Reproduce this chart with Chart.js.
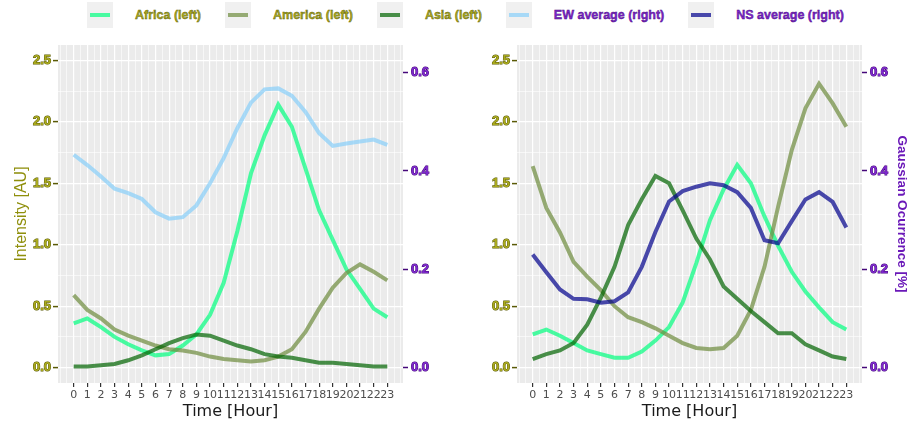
<!DOCTYPE html>
<html>
<head>
<meta charset="utf-8">
<script src="https://cdn.jsdelivr.net/npm/chart.js@4.4.1/dist/chart.umd.min.js"></script>
<style>
html,body{margin:0;padding:0;background:#fff;width:908px;height:428px;overflow:hidden;}
#legend{position:absolute;left:87px;top:2px;height:26px;display:flex;align-items:center;
  font-family:"Liberation Sans",Arial,sans-serif;font-weight:bold;font-size:12.5px;}
.key{width:26px;height:26px;background:#f0f0f0;position:relative;margin-right:22px;flex:none;}
.key span{position:absolute;left:3px;right:3px;top:11px;height:4px;}
.lab{margin-right:24px;white-space:nowrap;-webkit-text-stroke:0.4px;}
#c1{position:absolute;left:0;top:0;}
#c2{position:absolute;left:454px;top:0;}
</style>
</head>
<body>
<div id="legend"></div>
<canvas id="c1" width="454" height="428"></canvas>
<canvas id="c2" width="454" height="428"></canvas>
<script>
// ---------- data ----------
const hours = [0,1,2,3,4,5,6,7,8,9,10,11,12,13,14,15,16,17,18,19,20,21,22,23];

// left panel (Intensity [AU])
const africaLeft  = [0.36,0.40,0.33,0.25,0.19,0.14,0.10,0.11,0.18,0.27,0.43,0.69,1.11,1.58,1.89,2.14,1.96,1.62,1.28,1.04,0.80,0.64,0.48,0.41];
const americaLeft = [0.59,0.47,0.40,0.31,0.26,0.22,0.18,0.15,0.14,0.12,0.09,0.07,0.06,0.05,0.06,0.09,0.15,0.29,0.48,0.65,0.77,0.84,0.78,0.71];
const asiaLeft    = [0.01,0.01,0.02,0.03,0.06,0.10,0.15,0.20,0.24,0.27,0.26,0.22,0.18,0.15,0.11,0.09,0.08,0.06,0.04,0.04,0.03,0.02,0.01,0.01];
// left panel (Gaussian Ocurrence [%], right axis)
const ewAverage   = [0.433,0.412,0.389,0.364,0.355,0.343,0.316,0.303,0.306,0.330,0.375,0.426,0.487,0.539,0.566,0.568,0.553,0.520,0.477,0.451,0.456,0.460,0.464,0.453];

// right panel (Intensity [AU])
const africaRight  = [0.27,0.31,0.26,0.20,0.14,0.11,0.08,0.08,0.13,0.22,0.33,0.53,0.85,1.20,1.45,1.65,1.50,1.23,0.99,0.78,0.62,0.49,0.37,0.31];
const americaRight = [1.64,1.30,1.10,0.86,0.74,0.63,0.50,0.41,0.37,0.32,0.26,0.20,0.16,0.15,0.16,0.26,0.47,0.82,1.31,1.77,2.11,2.31,2.15,1.96];
const asiaRight    = [0.07,0.11,0.14,0.20,0.35,0.57,0.82,1.16,1.37,1.56,1.50,1.28,1.05,0.88,0.66,0.56,0.46,0.37,0.28,0.28,0.19,0.14,0.09,0.07];
// right panel (Gaussian Ocurrence [%], right axis)
const nsAverage    = [0.230,0.194,0.159,0.140,0.139,0.132,0.135,0.153,0.205,0.276,0.338,0.359,0.368,0.375,0.371,0.357,0.325,0.259,0.253,0.298,0.342,0.357,0.337,0.285];

// tick labels
const leftTicks  = [0.0,0.5,1.0,1.5,2.0,2.5];
const rightTicks = [0.0,0.2,0.4,0.6];

const seriesNames = ['Africa (left)','America (left)','Asia (left)','EW average (right)','NS average (right)'];

// ---------- styles ----------
const colAfrica  = 'rgba(0,255,127,0.7)';
const colAmerica = 'rgba(110,139,61,0.7)';
const colAsia    = 'rgba(0,100,0,0.7)';
const colEW      = 'rgba(135,206,250,0.7)';
const colNS      = 'rgba(0,0,139,0.7)';
const seriesColors = [colAfrica,colAmerica,colAsia,colEW,colNS];
const OLIVE = '#aaaa1c', OLIVE_DARK = '#5a5a06';
const PURPLE = '#7d26cd', PURPLE_DARK = '#45087a';
const ARIAL = '"Liberation Sans", Arial, sans-serif';

// legend (HTML)
const legend = document.getElementById('legend');
seriesNames.forEach((name,i)=>{
  const k = document.createElement('div'); k.className='key';
  const s = document.createElement('span'); s.style.background = seriesColors[i]; k.appendChild(s);
  const l = document.createElement('div'); l.className='lab'; l.textContent = name;
  const left = i < 3;
  l.style.color = left ? OLIVE : PURPLE;
  l.style.webkitTextStrokeColor = left ? OLIVE_DARK : PURPLE_DARK;
  legend.appendChild(k); legend.appendChild(l);
});

// grid helpers
const leftMinor = leftTicks.slice(0,-1).map(v=>v+0.25);
const yGrid = leftTicks.concat(leftMinor).sort((a,b)=>a-b);
const xMinor = [-1,-0.5].concat(hours.map(h=>h+0.5)).concat([24]);
const xGrid = hours.concat(xMinor).sort((a,b)=>a-b);
const isMajorX = v => hours.includes(v);
const isMajorY = v => leftTicks.some(t=>Math.abs(t-v)<1e-9);

const bgPlugin = {
  id:'panelBg',
  beforeDraw(chart){
    const {ctx, chartArea:a} = chart;
    ctx.save(); ctx.fillStyle = '#ebebeb';
    ctx.fillRect(a.left, a.top, a.right-a.left, a.bottom-a.top);
    ctx.restore();
  }
};

function pts(arr){ return hours.map((h,i)=>({x:h, y:arr[i]})); }
function ds(label, arr, color, axis){
  return {label, data:pts(arr), borderColor:color, backgroundColor:color, borderWidth:4,
          pointRadius:0, tension:0, yAxisID:axis, fill:false};
}

function makeChart(id, datasets, leftW, rightW, showLeftTitle, showRightTitle){
  return new Chart(document.getElementById(id), {
    type:'line',
    data:{datasets},
    plugins:[bgPlugin],
    options:{
      responsive:false, animation:false, devicePixelRatio:1,
      layout:{padding:{top:45,left:0,right:0,bottom:0}},
      plugins:{legend:{display:false}, tooltip:{enabled:false}},
      scales:{
        x:{
          type:'linear', min:-1.15, max:24.15,
          afterBuildTicks: s => { s.ticks = xGrid.map(v=>({value:v})); },
          afterFit: s => { s.height = 45; },
          border:{display:false},
          grid:{color:'#ffffff', lineWidth: c => isMajorX(c.tick.value) ? 1.2 : 0.6,
                tickColor: c => isMajorX(c.tick.value) ? '#333333' : 'rgba(0,0,0,0)',
                tickLength:4, tickWidth:1.2},
          ticks:{autoSkip:false, maxRotation:0, minRotation:0, padding:2,
                 color:'#4d4d4d', font:{family:'"DejaVu Sans"', size:11},
                 callback: v => isMajorX(v) ? String(v) : ''},
          title:{display:true, text:'Time [Hour]', color:'#1a1a1a',
                 font:{family:'"DejaVu Sans"', size:16, lineHeight:1.2}, padding:{top:0,bottom:7}}
        },
        y:{
          type:'linear', position:'left', min:-0.125, max:2.625,
          afterBuildTicks: s => { s.ticks = yGrid.map(v=>({value:v})); },
          afterFit: s => { s.width = leftW; },
          border:{display:false},
          grid:{color:'#ffffff', lineWidth: c => isMajorY(c.tick.value) ? 1.2 : 0.6,
                tickColor: c => isMajorY(c.tick.value) ? OLIVE_DARK : 'rgba(0,0,0,0)',
                tickLength:5, tickWidth:1.5},
          ticks:{padding:2, color:OLIVE, textStrokeColor:OLIVE_DARK, textStrokeWidth:1,
                 font:{family:ARIAL, size:13, weight:'bold'},
                 callback: v => isMajorY(v) ? v.toFixed(1) : ''},
          title:{display:showLeftTitle, text:'Intensity [AU]', color:'#8f8f0c',
                 font:{family:ARIAL, size:16, lineHeight:1}, padding:{top:14,bottom:0}}
        },
        y2:{
          type:'linear', position:'right', min:-0.03125, max:0.65625,
          afterBuildTicks: s => { s.ticks = rightTicks.map(v=>({value:v})); },
          afterFit: s => { s.width = rightW; },
          border:{display:false},
          grid:{drawOnChartArea:false, color:PURPLE_DARK, tickColor:PURPLE_DARK, tickLength:5, tickWidth:1.5},
          ticks:{padding:3, color:PURPLE, textStrokeColor:PURPLE_DARK, textStrokeWidth:1,
                 font:{family:ARIAL, size:13, weight:'bold'},
                 callback: v => v.toFixed(1)},
          title:{display:showRightTitle, text:'Gaussian Ocurrence [%]', color:'#6a18b8',
                 font:{family:ARIAL, size:13.5, weight:'bold', lineHeight:1}, padding:{top:0,bottom:0}}
        }
      }
    }
  });
}

makeChart('c1', [
  ds(seriesNames[3], ewAverage, colEW, 'y2'),
  ds(seriesNames[2], asiaLeft, colAsia, 'y'),
  ds(seriesNames[1], americaLeft, colAmerica, 'y'),
  ds(seriesNames[0], africaLeft, colAfrica, 'y')
], 58, 51, true, false);

makeChart('c2', [
  ds(seriesNames[4], nsAverage, colNS, 'y2'),
  ds(seriesNames[2], asiaRight, colAsia, 'y'),
  ds(seriesNames[1], americaRight, colAmerica, 'y'),
  ds(seriesNames[0], africaRight, colAfrica, 'y')
], 63, 46, false, true);
</script>
</body>
</html>
